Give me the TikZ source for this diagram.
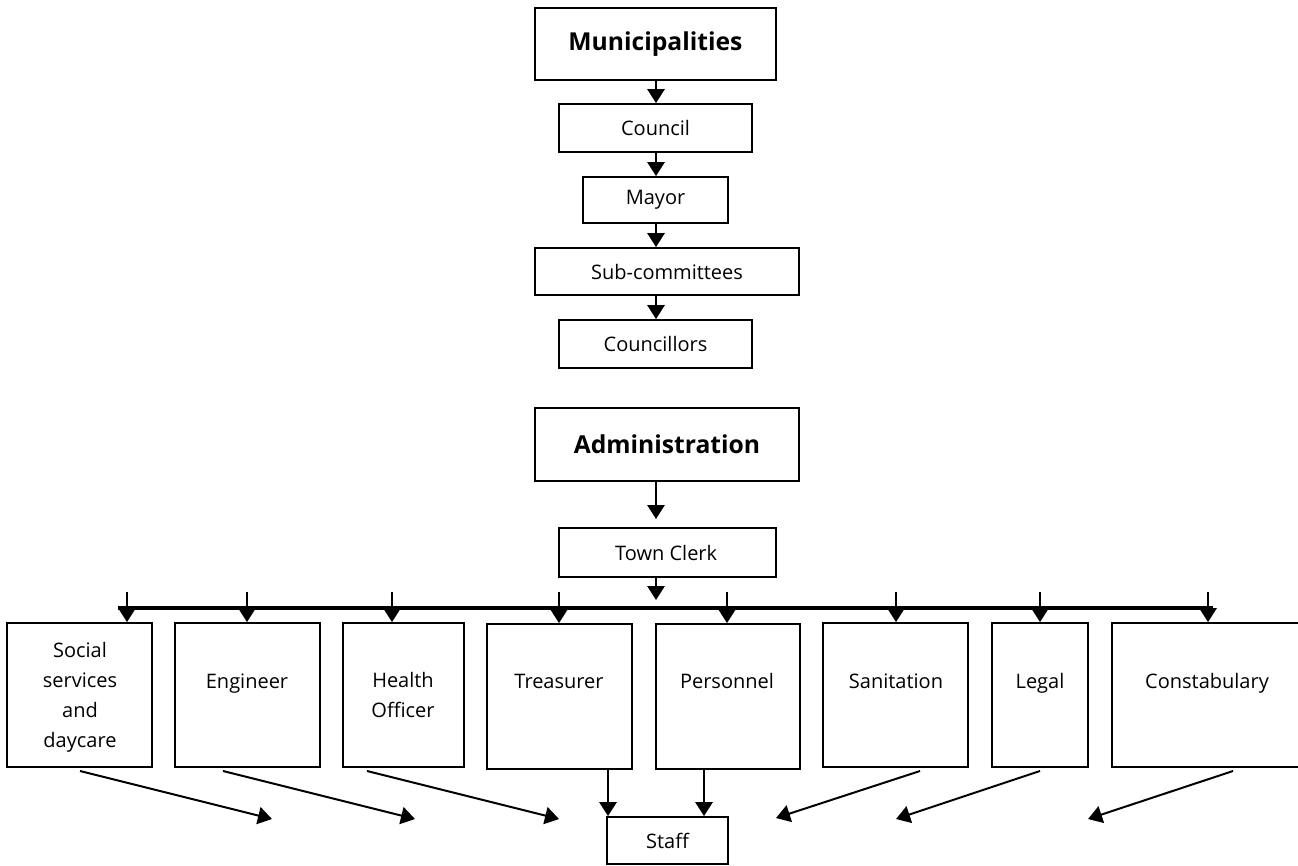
\documentclass[tikz,border=0pt]{standalone}
\usepackage{fontspec}
\setmainfont{Open Sans}
\usetikzlibrary{arrows.meta,fit}
\tikzset{
  box/.style={draw=black, line width=1.4pt, inner sep=0pt, fill=white},
  lbl/.style={font=\fontsize{15}{22.5}\selectfont, align=center, inner sep=0pt},
  big/.style={font=\fontsize{18.5}{20}\selectfont\bfseries, inner sep=0pt},
  arr/.style={line width=1.5pt, -{Triangle[width=13pt,length=10.5pt]}},
  bar/.style={line width=2.6pt}
}
\begin{document}
\begin{tikzpicture}[x=0.75pt,y=-0.75pt]
\useasboundingbox (0,0) rectangle (1298,865);
\clip (0,0) rectangle (1298,865);
\coordinate (axis) at (656,0);
% top column
\node[box, fit={(535,8) (776,80)}] (mun) {};
\node[big] (munt) at (mun.center) {Municipalities};
\node[box, fit={(559,104) (752,152)}] (cou) {};
\node[lbl] (cout) at (cou.center) {Council};
\node[box, fit={(583,177) (728,223)}] (may) {};
\node[lbl] (mayt) at (may.center) {Mayor};
\node[box, fit={(535,248) (799,295)}] (sub) {};
\node[lbl] (subt) at (sub.center) {Sub-committees};
\node[box, fit={(559,320) (752,368)}] (cnc) {};
\node[lbl] (cnct) at (cnc.center) {Councillors};
\draw[arr] (mun.south -| axis) -- (cou.north -| axis);
\draw[arr] (cou.south -| axis) -- (may.north -| axis);
\draw[arr] (may.south -| axis) -- (sub.north -| axis);
\draw[arr] (sub.south -| axis) -- (cnc.north -| axis);
% administration
\node[box, fit={(535,408) (799,481)}] (adm) {};
\node[big] (admt) at (adm.center) {Administration};
\node[box, fit={(559,528) (776,577)}] (clk) {};
\node[lbl] (clkt) at ([xshift=-1]clk.center) {Town Clerk};
\coordinate (admtip) at (656,519);
\draw[arr] (adm.south -| admtip) -- (admtip);
\coordinate (clktip) at (656,600);
\draw[arr] (clk.south -| clktip) -- (clktip);
% bar
\coordinate (barL) at (118,608);
\coordinate (barR) at (1213,608);
\draw[bar] (barL) -- (barR);
% departments
\node[box, fit={(7,623) (152,767)}] (soc) {};
\node[box, fit={(175,623) (320,767)}] (eng) {};
\node[box, fit={(343,623) (464,767)}] (hea) {};
\node[box, fit={(487,624) (632,769)}] (tre) {};
\node[box, fit={(656,624) (800,769)}] (per) {};
\node[box, fit={(823,623) (968,767)}] (san) {};
\node[box, fit={(992,623) (1088,767)}] (leg) {};
\node[box, fit={(1112,623) (1310,767)}] (con) {};
\node[lbl, anchor=base] (soct) at (80,747) {Social\\services\\and\\daycare};
\node[lbl, anchor=base] (engt) at (247,688) {Engineer};
\node[lbl, anchor=base] (heat) at (403,717) {Health\\Officer};
\node[lbl, anchor=base] (tret) at (559,688) {Treasurer};
\node[lbl, anchor=base] (pert) at (727,688) {Personnel};
\node[lbl, anchor=base] (sant) at (896,688) {Sanitation};
\node[lbl, anchor=base] (legt) at (1040,688) {Legal};
\node[lbl, anchor=base] (cont) at (1207,688) {Constabulary};
% drop arrows
\foreach \n/\x in {soc/127, eng/247, hea/392, tre/559, per/727, san/896, leg/1040, con/1208}{
  \coordinate (top\n) at (\x,592);
  \draw[arr] (top\n) -- (top\n |- \n.north);
}
% staff
\node[box, fit={(607,817) (728,864)}] (stf) {};
\node[lbl] (stft) at (stf.center) {Staff};
\draw[arr] (tre.south -| 608,0) -- (stf.north -| 608,0);
\draw[arr] (per.south -| 704,0) -- (stf.north -| 704,0);
% diagonal arrows
\coordinate (s1) at (80,771);   \coordinate (e1) at (272,819);
\coordinate (s2) at (223,771);  \coordinate (e2) at (415,819);
\coordinate (s3) at (367,771);  \coordinate (e3) at (559,819);
\coordinate (s4) at (920,771);  \coordinate (e4) at (776,818);
\coordinate (s5) at (1040,771); \coordinate (e5) at (896,819);
\coordinate (s6) at (1233,771); \coordinate (e6) at (1088,819);
\foreach \i in {1,...,6}{\draw[arr] (s\i) -- (e\i);}
\end{tikzpicture}
\end{document}
